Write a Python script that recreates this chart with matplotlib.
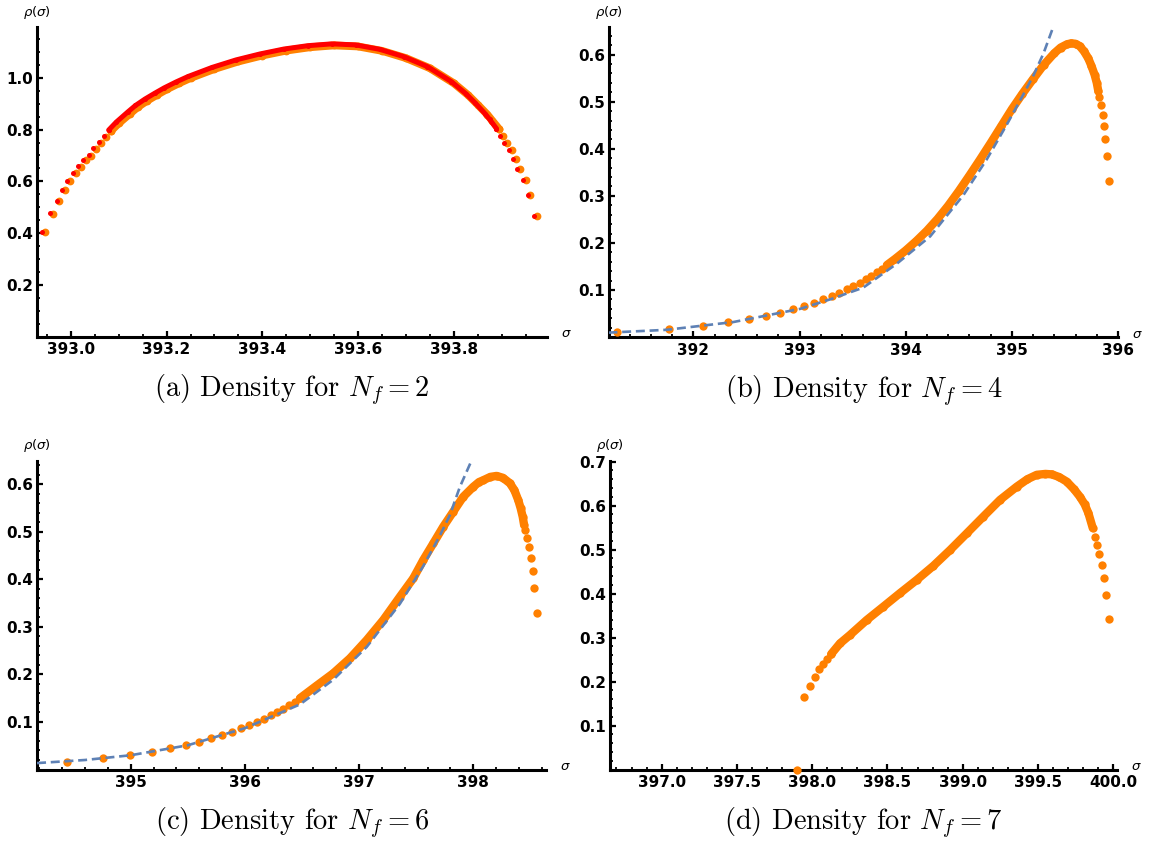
import matplotlib
matplotlib.use("Agg")
import matplotlib.pyplot as plt
from matplotlib.ticker import MultipleLocator, FixedLocator, FormatStrFormatter

plt.rcParams['mathtext.fontset'] = 'cm'

# ---------------- data ----------------
# (a) N_f = 2 : two point series (orange, red)
a_or_left_sig = [392.946, 392.962, 392.976, 392.987, 392.998, 393.010, 393.021, 393.031, 393.042, 393.052, 393.063, 393.074, 393.084]
a_or_left_rho = [0.403, 0.474, 0.524, 0.565, 0.600, 0.631, 0.656, 0.681, 0.699, 0.725, 0.750, 0.772, 0.795]
a_or_band_sig = [393.084, 393.10, 393.124, 393.14, 393.16, 393.18, 393.20, 393.225, 393.25, 393.30, 393.35, 393.40, 393.45, 393.50, 393.55, 393.60, 393.65, 393.70, 393.75, 393.80, 393.83, 393.85, 393.87, 393.88, 393.895]
a_or_band_rho = [0.795, 0.824, 0.862, 0.887, 0.912, 0.934, 0.955, 0.978, 0.999, 1.034, 1.063, 1.086, 1.105, 1.118, 1.125, 1.121, 1.104, 1.076, 1.037, 0.979, 0.933, 0.896, 0.858, 0.835, 0.801]
a_or_right_sig = [393.895, 393.903, 393.911, 393.921, 393.930, 393.939, 393.950, 393.960, 393.973]
a_or_right_rho = [0.801, 0.776, 0.749, 0.721, 0.687, 0.649, 0.604, 0.547, 0.467]

a_red_left_sig = [392.940, 392.957, 392.971, 392.982, 392.993, 393.005, 393.016, 393.026, 393.037, 393.047, 393.058, 393.069, 393.079]
a_red_left_rho = [0.405, 0.476, 0.526, 0.567, 0.602, 0.633, 0.659, 0.683, 0.703, 0.728, 0.753, 0.775, 0.798]
a_red_band_sig = [393.079, 393.095, 393.119, 393.135, 393.155, 393.175, 393.195, 393.22, 393.245, 393.295, 393.345, 393.395, 393.445, 393.495, 393.545, 393.595, 393.645, 393.695, 393.745, 393.795, 393.825, 393.845, 393.865, 393.875, 393.889]
a_red_band_rho = [0.798, 0.829, 0.868, 0.893, 0.918, 0.940, 0.961, 0.984, 1.005, 1.040, 1.069, 1.092, 1.111, 1.124, 1.131, 1.127, 1.110, 1.082, 1.043, 0.985, 0.939, 0.902, 0.862, 0.839, 0.804]
a_red_right_sig = [393.889, 393.897, 393.905, 393.915, 393.924, 393.933, 393.944, 393.954, 393.967]
a_red_right_rho = [0.801, 0.776, 0.749, 0.721, 0.687, 0.649, 0.604, 0.547, 0.467]

# (b) N_f = 4
b_left_sig = [391.278, 391.771, 392.094, 392.330, 392.525, 392.682, 392.817, 392.937, 393.043, 393.140, 393.225, 393.304, 393.376, 393.446, 393.508, 393.565, 393.625, 393.675, 393.728, 393.776, 393.823]
b_left_rho = [0.010, 0.0165, 0.0243, 0.0314, 0.0377, 0.0448, 0.0518, 0.0590, 0.066, 0.073, 0.080, 0.087, 0.094, 0.1015, 0.1085, 0.1155, 0.1227, 0.1297, 0.1376, 0.145, 0.153]
b_band_sig = [393.823, 393.90, 394.00, 394.10, 394.20, 394.30, 394.40, 394.50, 394.60, 394.70, 394.80, 394.90, 395.00, 395.10, 395.20, 395.30, 395.40, 395.46, 395.52, 395.56, 395.60, 395.64, 395.68, 395.72, 395.75, 395.78, 395.80, 395.815]
b_band_rho = [0.153, 0.166, 0.184, 0.204, 0.226, 0.251, 0.279, 0.310, 0.343, 0.377, 0.412, 0.448, 0.484, 0.517, 0.548, 0.578, 0.603, 0.615, 0.622, 0.624, 0.623, 0.618, 0.607, 0.592, 0.576, 0.557, 0.540, 0.522]
b_right_sig = [395.824, 395.840, 395.854, 395.869, 395.882, 395.896, 395.916]
b_right_rho = [0.509, 0.492, 0.472, 0.449, 0.421, 0.384, 0.331]
b_fit_sig = [391.20, 391.75, 392.377, 393.006, 393.30, 393.60, 393.917, 394.231, 394.545, 394.765, 394.954, 395.11, 395.204, 395.299, 395.40]
b_fit_rho = [0.0095, 0.0155, 0.032, 0.060, 0.081, 0.105, 0.156, 0.214, 0.302, 0.378, 0.452, 0.516, 0.556, 0.603, 0.665]

# (c) N_f = 6
c_left_sig = [394.440, 394.755, 394.994, 395.187, 395.344, 395.481, 395.598, 395.703, 395.797, 395.884, 395.966, 396.039, 396.106, 396.167, 396.226, 396.284, 396.336, 396.386, 396.436, 396.482]
c_left_rho = [0.0165, 0.0235, 0.0305, 0.0375, 0.0446, 0.0516, 0.0586, 0.0656, 0.0726, 0.0796, 0.0867, 0.0937, 0.100, 0.107, 0.114, 0.121, 0.128, 0.135, 0.1427, 0.150]
c_band_sig = [396.482, 396.62, 396.774, 396.92, 397.067, 397.212, 397.358, 397.475, 397.562, 397.65, 397.737, 397.825, 397.912, 398.00, 398.05, 398.088, 398.15, 398.205, 398.26, 398.321, 398.36, 398.394, 398.415, 398.433, 398.445]
c_band_rho = [0.150, 0.175, 0.2025, 0.234, 0.2726, 0.3147, 0.3638, 0.4025, 0.441, 0.476, 0.511, 0.5427, 0.574, 0.595, 0.605, 0.609, 0.616, 0.618, 0.614, 0.6025, 0.588, 0.567, 0.550, 0.532, 0.515]
c_right_sig = [398.453, 398.468, 398.490, 398.505, 398.520, 398.534, 398.555]
c_right_rho = [0.504, 0.4867, 0.469, 0.445, 0.417, 0.3815, 0.329]
c_fit_sig = [394.18, 394.60, 395.00, 395.50, 396.00, 396.482, 396.774, 397.067, 397.358, 397.562, 397.708, 397.796, 397.883, 398.00, 398.03]
c_fit_rho = [0.0135, 0.020, 0.030, 0.051, 0.087, 0.137, 0.189, 0.258, 0.349, 0.428, 0.4925, 0.536, 0.595, 0.6585, 0.67]

# (d) N_f = 7
d_left_sig = [397.901, 397.948, 397.985, 398.019, 398.047, 398.074, 398.100, 398.127]
d_left_rho = [0.0, 0.1645, 0.191, 0.2114, 0.228, 0.240, 0.252, 0.263]
d_band_sig = [398.127, 398.185, 398.251, 398.362, 398.473, 398.583, 398.694, 398.805, 398.916, 399.027, 399.137, 399.248, 399.359, 399.43, 399.492, 399.55, 399.591, 399.64, 399.691, 399.74, 399.779, 399.81, 399.835, 399.864]
d_band_rho = [0.263, 0.287, 0.306, 0.340, 0.3705, 0.401, 0.431, 0.463, 0.499, 0.537, 0.575, 0.613, 0.643, 0.660, 0.670, 0.672, 0.671, 0.665, 0.6545, 0.637, 0.620, 0.603, 0.583, 0.549]
d_right_sig = [399.879, 399.894, 399.908, 399.924, 399.939, 399.952, 399.972]
d_right_rho = [0.5296, 0.511, 0.490, 0.465, 0.435, 0.397, 0.342]

captions = ["(a) Density for $N_f = 2$", "(b) Density for $N_f = 4$",
            "(c) Density for $N_f = 6$", "(d) Density for $N_f = 7$"]
xticks_a = [393.0, 393.2, 393.4, 393.6, 393.8]
xticks_b = [392, 393, 394, 395, 396]
xticks_c = [395, 396, 397, 398]
xticks_d = [397.0, 397.5, 398.0, 398.5, 399.0, 399.5, 400.0]
yticks_a = [0.2, 0.4, 0.6, 0.8, 1.0]
yticks_b = [0.1, 0.2, 0.3, 0.4, 0.5, 0.6]
yticks_c = [0.1, 0.2, 0.3, 0.4, 0.5, 0.6]
yticks_d = [0.1, 0.2, 0.3, 0.4, 0.5, 0.6, 0.7]

ORANGE = '#FF8000'
RED = '#FF0000'
BLUE = '#5E81B5'

W, H = 1149, 841
fig = plt.figure(figsize=(W / 100, H / 100), dpi=100)


def make_axes(px0, px1, pytop, pybot, xlim, ymax, xticks, yticks, xminor, yminor, xfmt, yfmt):
    ax = fig.add_axes([px0 / W, 1 - pybot / H, (px1 - px0) / W, (pybot - pytop) / H])
    ax.set_xlim(*xlim)
    ax.set_ylim(0, ymax)
    for s in ['top', 'right']:
        ax.spines[s].set_visible(False)
    for s in ['left', 'bottom']:
        ax.spines[s].set_linewidth(2.2)
    ax.xaxis.set_major_locator(FixedLocator(xticks))
    ax.yaxis.set_major_locator(FixedLocator(yticks))
    ax.xaxis.set_minor_locator(MultipleLocator(xminor))
    ax.yaxis.set_minor_locator(MultipleLocator(yminor))
    ax.xaxis.set_major_formatter(FormatStrFormatter(xfmt))
    ax.yaxis.set_major_formatter(FormatStrFormatter(yfmt))
    ax.tick_params(which='major', direction='in', length=4.5, width=1.6, labelsize=11, pad=4)
    ax.tick_params(which='minor', direction='in', length=2.5, width=1.3)
    ax.tick_params(axis='y', which='major', pad=3)
    for lab in ax.get_xticklabels() + ax.get_yticklabels():
        lab.set_fontweight('bold')
    ax.annotate(r'$\rho(\sigma)$', xy=(0, 1), xycoords='axes fraction', xytext=(0, 11),
                textcoords='offset points', ha='center', va='center', fontsize=9.5,
                math_fontfamily='dejavusans')
    ax.annotate(r'$\sigma$', xy=(1, 0), xycoords='axes fraction', xytext=(10, 2),
                textcoords='offset points', ha='left', va='center', fontsize=9.5,
                math_fontfamily='dejavusans')
    return ax


def dots(ax, x, y, color, ms):
    ax.plot(x, y, 'o', color=color, ms=ms, mew=0, clip_on=False, zorder=3)


def band(ax, x, y, color, ms):
    ax.plot(x, y, '-', color=color, lw=ms, solid_capstyle='round', solid_joinstyle='round',
            clip_on=False, zorder=3)


def caption(ax, text):
    ax.text(0.5, -0.172, text, transform=ax.transAxes, ha='center', va='center',
            fontsize=20.5, family='cmr10')


# (a)
ax = make_axes(37.3, 546.7, 27.3, 336.7, (392.930, 393.994), 1.195, xticks_a, yticks_a, 0.05, 0.05, '%.1f', '%.1f')
for xs, ys in [(a_or_left_sig, a_or_left_rho), (a_or_band_sig, a_or_band_rho), (a_or_right_sig, a_or_right_rho)]:
    dots(ax, xs, ys, ORANGE, 5.6)
band(ax, a_or_band_sig, a_or_band_rho, ORANGE, 5.6)
for xs, ys in [(a_red_left_sig, a_red_left_rho), (a_red_band_sig, a_red_band_rho), (a_red_right_sig, a_red_right_rho)]:
    dots(ax, xs, ys, RED, 3.6)
band(ax, a_red_band_sig, a_red_band_rho, RED, 3.6)
caption(ax, captions[0])

# (b)
ax = make_axes(609.3, 1118.0, 27.3, 337.1, (391.208, 396.0), 0.658, xticks_b, yticks_b, 0.2, 0.02, '%d', '%.1f')
for xs, ys in [(b_left_sig, b_left_rho), (b_band_sig, b_band_rho), (b_right_sig, b_right_rho)]:
    dots(ax, xs, ys, ORANGE, 6.0)
band(ax, b_band_sig, b_band_rho, ORANGE, 6.0)
ax.plot(b_fit_sig, b_fit_rho, '--', color=BLUE, lw=1.9, dashes=(3.4, 1.8), zorder=4)
caption(ax, captions[1])

# (c)
ax = make_axes(37.3, 546.0, 460.7, 769.5, (394.182, 398.637), 0.650, xticks_c, yticks_c, 0.2, 0.02, '%d', '%.1f')
for xs, ys in [(c_left_sig, c_left_rho), (c_band_sig, c_band_rho), (c_right_sig, c_right_rho)]:
    dots(ax, xs, ys, ORANGE, 6.0)
band(ax, c_band_sig, c_band_rho, ORANGE, 6.0)
ax.plot(c_fit_sig, c_fit_rho, '--', color=BLUE, lw=1.9, dashes=(3.4, 1.8), zorder=4)
caption(ax, captions[2])

# (d)
ax = make_axes(610.0, 1116.7, 460.7, 769.7, (396.657, 400.023), 0.702, xticks_d, yticks_d, 0.1, 0.02, '%.1f', '%.1f')
for xs, ys in [(d_left_sig, d_left_rho), (d_band_sig, d_band_rho), (d_right_sig, d_right_rho)]:
    dots(ax, xs, ys, ORANGE, 6.0)
band(ax, d_band_sig, d_band_rho, ORANGE, 6.0)
caption(ax, captions[3])

fig.savefig('out.png', dpi=100)
